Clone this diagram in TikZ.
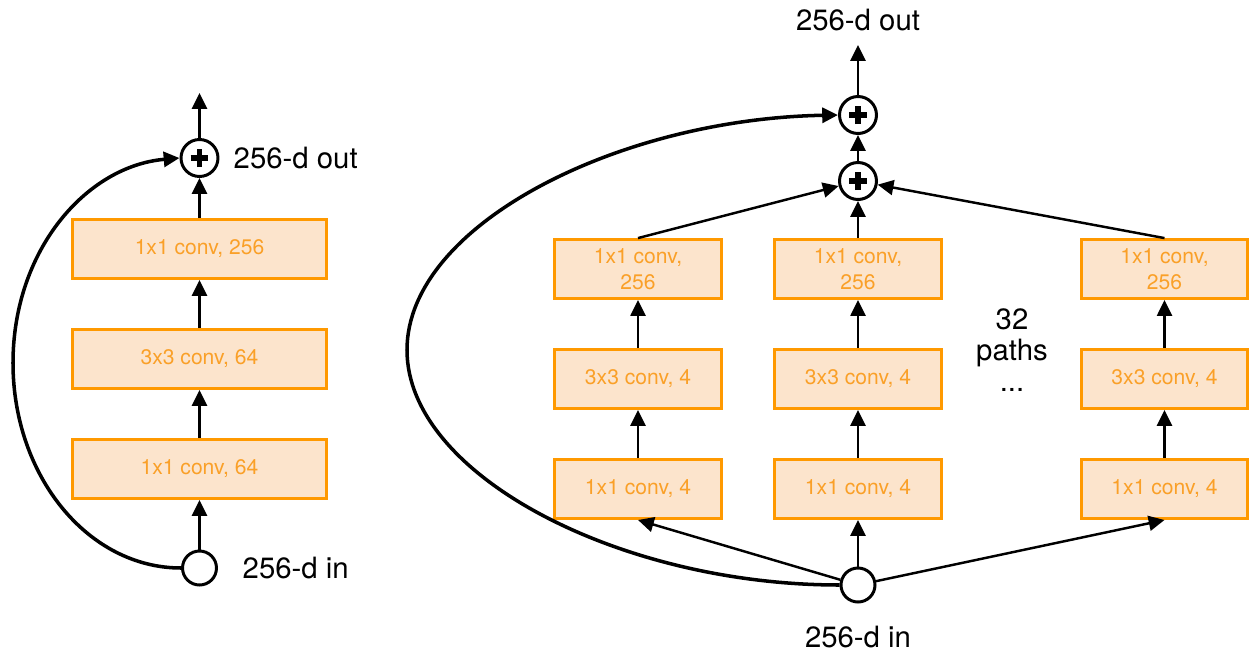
\documentclass[tikz,border=0pt]{standalone}
\usepackage{fontspec}
\setmainfont{TeX Gyre Heros}
\usetikzlibrary{arrows.meta,positioning}
\definecolor{convfill}{RGB}{252,228,204}
\definecolor{convline}{RGB}{255,153,0}
\definecolor{convtext}{RGB}{250,160,40}

\begin{document}
\begin{tikzpicture}[x=0.02cm,y=-0.02cm,
  >={Triangle[length=9pt,width=8.5pt]},
  every node/.style={font=\fontsize{16.7}{20}\selectfont,align=center},
  conv/.style={draw=convline,fill=convfill,line width=1.7pt,text=convtext,
    font=\fontsize{12}{14.5}\selectfont,minimum height=11.8mm,inner sep=2pt},
  wideconv/.style={conv,minimum width=50.8mm},
  narrowconv/.style={conv,minimum width=33.4mm},
  addnode/.style={circle,draw,line width=1.7pt,fill=white,minimum size=7.4mm,
    inner sep=0pt,path picture={
      \draw[line width=3.2pt]
        ([xshift=-1.8mm]path picture bounding box.center) --
        ([xshift=1.8mm]path picture bounding box.center)
        ([yshift=-1.8mm]path picture bounding box.center) --
        ([yshift=1.8mm]path picture bounding box.center);}},
  innode/.style={circle,draw,line width=1.7pt,fill=white,minimum size=6.8mm,
    inner sep=0pt},
  flow/.style={->,line width=1.4pt},
  shortcut/.style={->,line width=2pt}]
  \useasboundingbox (0,0) rectangle (1249,653);

  % plain residual block
  \node[wideconv] (l1) at (199.5,469) {1x1 conv, 64};
  \node[wideconv,above=9.6mm of l1] (l2) {3x3 conv, 64};
  \node[wideconv,above=9.6mm of l2] (l3) {1x1 conv, 256};
  \node[addnode] (lsum) at (199.5,158) {};
  \node[innode] (lin) at (199.5,568) {};
  \coordinate (lout) at (199.5,93);
  \node[right=1.6mm of lsum] (loutlabel) {256-d out};
  \node[right=3.7mm of lin] (linlabel) {256-d in};

  \draw[flow] (lin) -- (l1);
  \draw[flow] (l1) -- (l2);
  \draw[flow] (l2) -- (l3);
  \draw[flow] (l3) -- (lsum);
  \draw[flow] (lsum) -- (lout);
  \draw[shortcut] (lin.west) .. controls +(-93,0) and +(0,113) .. (13,363)
    .. controls +(0,-113) and +(-93,8) .. (lsum.west);

  % aggregated block, 32 paths
  \node[narrowconv] (a1) at (638,489) {1x1 conv, 4};
  \node[narrowconv,above=9.6mm of a1] (a2) {3x3 conv, 4};
  \node[narrowconv,above=9.6mm of a2] (a3) {1x1 conv,\\256};
  \node[narrowconv] (b1) at (858,489) {1x1 conv, 4};
  \node[narrowconv,above=9.6mm of b1] (b2) {3x3 conv, 4};
  \node[narrowconv,above=9.6mm of b2] (b3) {1x1 conv,\\256};
  \node[narrowconv] (c1) at (1164.5,489) {1x1 conv, 4};
  \node[narrowconv,above=9.6mm of c1] (c2) {3x3 conv, 4};
  \node[narrowconv,above=9.6mm of c2] (c3) {1x1 conv,\\256};
  \node[font=\fontsize{16.7}{17.6}\selectfont] (paths) at (1012,350)
    {32\\paths\\...};

  \node[addnode] (rsum) at (858,181) {};
  \node[addnode] (rsumtop) at (858,115) {};
  \node[innode] (rin) at (858,585) {};
  \coordinate (rout) at (858,45);
  \node (routlabel) at (858,20) {256-d out};
  \node (rinlabel) at (858,637) {256-d in};

  \draw[flow] (rin) -- (a1.south);
  \draw[flow] (rin) -- (b1);
  \draw[flow] (rin) -- (c1.south);
  \draw[flow] (a1) -- (a2);
  \draw[flow] (a2) -- (a3);
  \draw[flow] (b1) -- (b2);
  \draw[flow] (b2) -- (b3);
  \draw[flow] (c1) -- (c2);
  \draw[flow] (c2) -- (c3);
  \draw[flow] (a3.north) -- (rsum);
  \draw[flow] (b3) -- (rsum);
  \draw[flow] (c3.north) -- (rsum);
  \draw[flow] (rsum) -- (rsumtop);
  \draw[flow] (rsumtop) -- (rout);
  \draw[shortcut] (rin.west) .. controls +(-220,0) and +(0,125) .. (407,350)
    .. controls +(0,-125) and +(-220,4) .. (rsumtop.west);
\end{tikzpicture}
\end{document}
